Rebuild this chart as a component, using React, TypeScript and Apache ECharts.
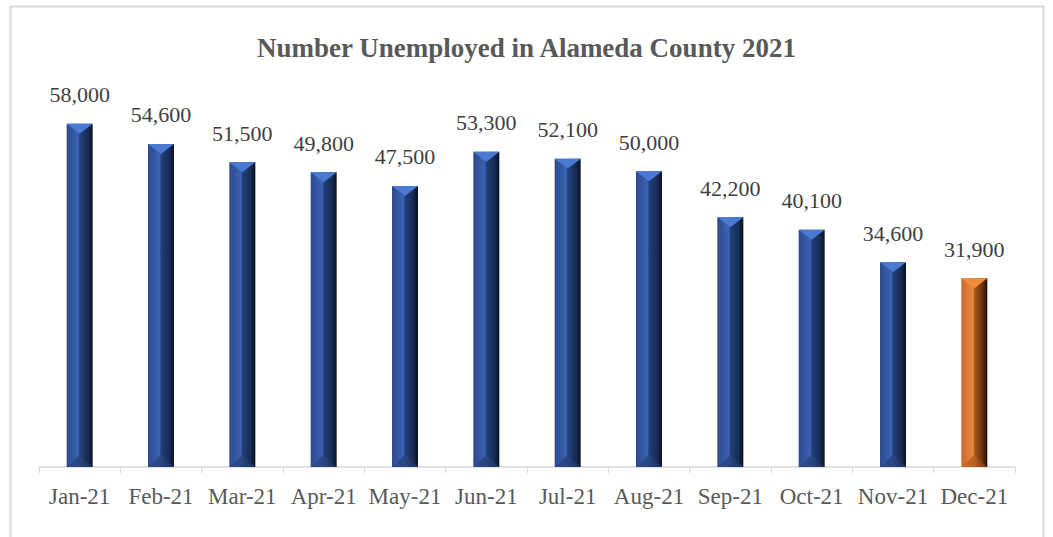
import React, { useEffect, useRef } from "react";
import * as echarts from "echarts";

const categories = ["Jan-21", "Feb-21", "Mar-21", "Apr-21", "May-21", "Jun-21", "Jul-21", "Aug-21", "Sep-21", "Oct-21", "Nov-21", "Dec-21"];
const unemployed = [58000, 54600, 51500, 49800, 47500, 53300, 52100, 50000, 42200, 40100, 34600, 31900];
const highlightIndex = 11;

const FONT = "'Liberation Serif', 'Times New Roman', serif";

const blue = {
  side: new echarts.graphic.LinearGradient(0, 0, 1, 0, [
    { offset: 0, color: "#2c4a8c" },
    { offset: 0.45, color: "#3d63b5" },
    { offset: 0.5, color: "#23407a" },
    { offset: 0.8, color: "#182d57" },
    { offset: 1, color: "#0a1222" },
  ]),
  top: "#4a7ad2",
  bottom: new echarts.graphic.LinearGradient(0, 0, 1, 0, [
    { offset: 0, color: "#2d4b8a" },
    { offset: 0.5, color: "#2a4680" },
    { offset: 1, color: "#1a2d55" },
  ]),
};
const orange = {
  side: new echarts.graphic.LinearGradient(0, 0, 1, 0, [
    { offset: 0, color: "#c8692a" },
    { offset: 0.45, color: "#ea8a3e" },
    { offset: 0.5, color: "#b05a1f" },
    { offset: 0.8, color: "#6a3410" },
    { offset: 1, color: "#1e0e04" },
  ]),
  top: "#f28b3c",
  bottom: new echarts.graphic.LinearGradient(0, 0, 1, 0, [
    { offset: 0, color: "#c96a2a" },
    { offset: 0.5, color: "#b85f22" },
    { offset: 1, color: "#6a3410" },
  ]),
};

export default function App() {
  const ref = useRef<HTMLDivElement>(null);
  useEffect(() => {
    const chart = echarts.init(ref.current!, null, { renderer: "svg" });
    chart.setOption({
      animation: false,
      backgroundColor: "#ffffff",
      title: {
        text: "Number Unemployed in Alameda County 2021",
        left: "center",
        top: 29,
        textStyle: { fontFamily: FONT, fontSize: 27, fontWeight: "bold", color: "#595959" },
      },
      graphic: [
        {
          type: "rect",
          shape: { x: 10.5, y: 6.5, width: 1033, height: 540 },
          style: { fill: "none", stroke: "#d9d9d9", lineWidth: 2 },
          silent: true,
        },
      ],
      grid: { left: 39, right: 38, top: 112, bottom: 70 },
      xAxis: {
        type: "category",
        data: categories,
        axisLine: { lineStyle: { color: "#d9d9d9", width: 1.5 } },
        axisTick: { show: true, length: 6, lineStyle: { color: "#d9d9d9" } },
        axisLabel: { fontFamily: FONT, fontSize: 23, color: "#595959", margin: 18, interval: 0 },
      },
      yAxis: { type: "value", min: 0, max: 60000, show: false, splitLine: { show: false } },
      series: [
        {
          type: "custom",
          data: unemployed.map((v, i) => [i, v]),
          renderItem: (params: any, api: any) => {
            const idx = api.value(0);
            const val = api.value(1);
            const top = api.coord([idx, val]);
            const base = api.coord([idx, 0]);
            const w = 26;
            const x0 = top[0] - w / 2;
            const x1 = top[0] + w / 2;
            const xc = top[0];
            const y0 = top[1];
            const yb = base[1];
            const pal = idx === highlightIndex ? orange : blue;
            return {
              type: "group",
              children: [
                { type: "rect", shape: { x: x0, y: y0, width: w, height: yb - y0 }, style: { fill: pal.side } },
                { type: "polygon", shape: { points: [[x0, y0], [x1, y0], [xc, y0 + 10]] }, style: { fill: pal.top } },
                { type: "polygon", shape: { points: [[x0, yb], [x1, yb], [xc, yb - 12]] }, style: { fill: pal.bottom } },
              ],
            };
          },
          z: 2,
        },
        {
          type: "bar",
          data: unemployed,
          barWidth: 26,
          itemStyle: { color: "rgba(0,0,0,0)" },
          label: {
            show: true,
            position: "top",
            distance: 18,
            fontFamily: FONT,
            fontSize: 22,
            color: "#404040",
            formatter: (p: any) => Number(p.value).toLocaleString("en-US"),
          },
          barGap: "-100%",
          z: 3,
        },
      ],
    });
    return () => chart.dispose();
  }, []);
  return <div ref={ref} style={{ position: "fixed", left: 0, top: 0, width: 1053, height: 537 }} />;
}
